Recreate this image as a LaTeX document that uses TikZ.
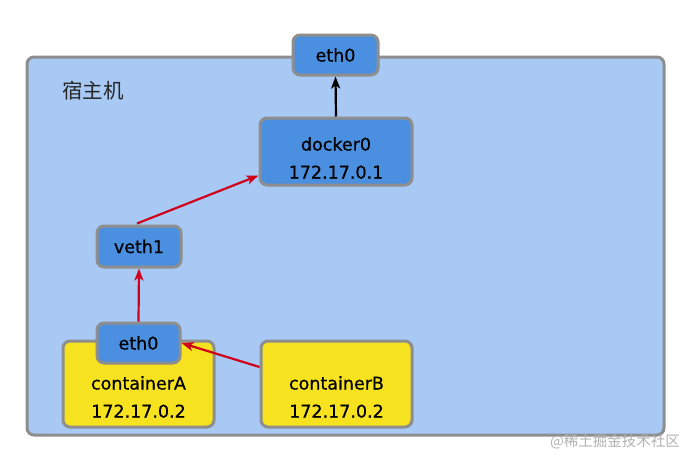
\documentclass[tikz,border=0pt]{standalone}
\usepackage{fontspec}
\setmainfont{DejaVu Sans}[UprightFeatures={FakeBold=0.5}]
\newfontfamily\cjk{Noto Sans CJK SC}
\usetikzlibrary{arrows.meta}
\definecolor{hostblue}{HTML}{A7C9F4}
\definecolor{nodeblue}{HTML}{4A8FE0}
\definecolor{bordergrey}{HTML}{8E8E8E}
\definecolor{cyellow}{HTML}{F6E21E}
\definecolor{arrred}{HTML}{D0021B}
\tikzset{
  box/.style={draw=bordergrey, line width=3pt, rounded corners=7pt, inner sep=0pt},
  ifbox/.style={box, fill=nodeblue},
  ctbox/.style={box, fill=cyellow},
  txt/.style={font=\fontsize{17.5}{28}\selectfont, align=center, inner sep=0pt},
  redarr/.style={draw=arrred, line width=2.2pt, -{Stealth[length=12pt,width=9pt,inset=3pt]}},
  blkarr/.style={draw=black, line width=2.2pt, -{Stealth[length=12pt,width=9pt,inset=3pt]}},
}
\begin{document}
\begin{tikzpicture}[x=1pt,y=-1pt]
\fill[white] (0,0) rectangle (690,466);
\useasboundingbox (0,0) rectangle (690,466);
\node[box, fill=hostblue, minimum width=637pt, minimum height=378pt] (host) at (345.5,246) {};
\node[font=\cjk\fontsize{20.5}{20.5}\selectfont, text=black!85, anchor=west, inner sep=0pt] (hostlabel) at (62,91) {宿主机};
\node[ifbox, minimum width=85pt, minimum height=40pt] (eth0top) at (335.5,55) {};
\node[txt] (eth0toptxt) at (335.5,55) {eth0};
\node[ifbox, minimum width=152pt, minimum height=67pt] (docker0) at (336,151.5) {};
\node[txt] (docker0txt) at (336,158) {docker0\\172.17.0.1};
\node[ifbox, minimum width=84pt, minimum height=41pt] (veth1) at (139,246.5) {};
\node[txt] (veth1txt) at (139,246.5) {veth1};
\node[ctbox, minimum width=151pt, minimum height=86pt] (ctA) at (138.5,384) {};
\node[txt] (ctAtxt) at (138.5,397) {containerA\\172.17.0.2};
\node[ctbox, minimum width=151pt, minimum height=86pt] (ctB) at (336.5,384) {};
\node[txt] (ctBtxt) at (336.5,397) {containerB\\172.17.0.2};
\node[ifbox, minimum width=83pt, minimum height=40pt] (eth0A) at (138.5,343) {};
\node[txt] (eth0Atxt) at (138.5,343) {eth0};
\draw[blkarr] (docker0.north) -- (eth0top.south);
\coordinate (vstart) at ([shift={(-2pt,1pt)}]veth1.north);
\draw[redarr] (vstart) -- ([yshift=-24pt]docker0.west);
\draw[redarr] (eth0A.north) -- (veth1.south);
\draw[redarr] ([yshift=17pt]ctB.west) -- (eth0A.east);
\node[font=\cjk\fontsize{14.5}{14.5}\selectfont, text=black!30, anchor=east, inner sep=0pt] (wm) at (680,442) {@稀土掘金技术社区};
\end{tikzpicture}
\end{document}
